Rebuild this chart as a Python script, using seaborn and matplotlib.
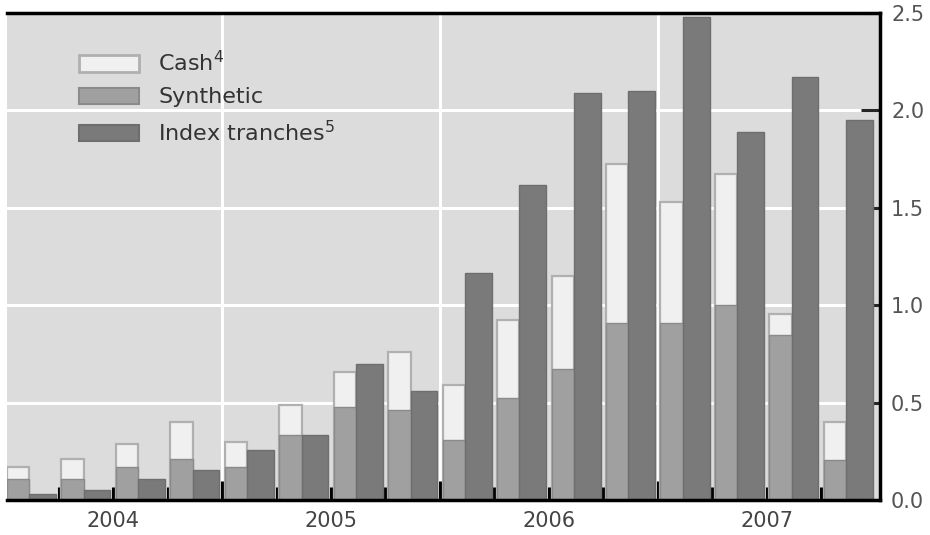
import numpy as np
import pandas as pd
import seaborn as sns
import matplotlib.pyplot as plt
from matplotlib.patches import Patch

sns.set_style("white")
plt.rcParams['font.family'] = ['DejaVu Sans']

# quarterly issuance, USD trillions (2004Q1 .. 2007Q4)
years = ["2004", "2005", "2006", "2007"]
quarters = [y + "Q" + str(q) for y in years for q in range(1, 5)]
synthetic = [0.11, 0.11, 0.17, 0.21, 0.17, 0.335, 0.475, 0.46,
             0.31, 0.525, 0.67, 0.91, 0.91, 1.00, 0.845, 0.205]
cash = [0.06, 0.10, 0.115, 0.19, 0.13, 0.155, 0.18, 0.30,
        0.28, 0.40, 0.48, 0.815, 0.62, 0.675, 0.11, 0.195]
index_tranches = [0.03, 0.05, 0.11, 0.155, 0.255, 0.335, 0.70, 0.56,
                  1.165, 1.615, 2.09, 2.10, 2.48, 1.89, 2.17, 1.95]

df = pd.DataFrame({"quarter": quarters, "synthetic": synthetic,
                   "cash": cash, "index": index_tranches})
df["pos"] = np.arange(len(df))
df["total"] = df["synthetic"] + df["cash"]

c_cash, e_cash = "#f0f0f0", "#b0b0b0"
c_syn, e_syn = "#a0a0a0", "#8a8a8a"
c_idx, e_idx = "#7a7a7a", "#6e6e6e"

fig = plt.figure(figsize=(9.3, 5.35), dpi=100)
ax = fig.add_axes([0.0075, 0.0654, 0.9387, 0.9103])
ax.set_facecolor("#dcdcdc")
ax.set_axisbelow(True)

sw, iw = 0.41, 0.49
gap = 1 - sw - iw
sns.barplot(x=df["pos"] + sw / 2, y=df["total"], native_scale=True, width=sw,
            color=c_cash, edgecolor=e_cash, linewidth=1.6, saturation=1,
            errorbar=None, ax=ax)
sns.barplot(x=df["pos"] + sw / 2, y=df["synthetic"], native_scale=True, width=sw,
            color=c_syn, edgecolor=e_syn, linewidth=1.0, saturation=1,
            errorbar=None, ax=ax)
sns.barplot(x=df["pos"] + sw + iw / 2, y=df["index"], native_scale=True, width=sw,
            color=c_idx, edgecolor=e_idx, linewidth=1.0, saturation=1,
            errorbar=None, ax=ax)
# index bars are a touch wider than the stacked ones
for p in ax.patches[2 * len(df):]:
    cx = p.get_x() + p.get_width() / 2
    p.set_width(iw)
    p.set_x(cx - iw / 2)

ax.set_xlim(0, 16.03)
ax.set_ylim(0, 2.5)
ax.set_xlabel("")
ax.set_ylabel("")

bounds = df["pos"].values[1:] - gap / 2
year_bounds = df["pos"].values[4::4] - gap / 2
ax.set_xticks(year_bounds)
ax.set_xticklabels([])
ax.set_xticks(bounds, minor=True)
ax.tick_params(axis="x", which="major", direction="in", length=13.5, width=2.2,
               color="black", bottom=True, labelbottom=False)
ax.tick_params(axis="x", which="minor", direction="in", length=9.4, width=2.2,
               color="black", bottom=True)

sec = ax.secondary_xaxis("bottom")
sec.set_xticks(df["pos"].values[::4] + (3 + sw + iw) / 2, years)
sec.tick_params(length=0, pad=8, labelsize=15, labelcolor="#444")
sec.spines["bottom"].set_visible(False)

ax.yaxis.tick_right()
yt = np.arange(0, 2.51, 0.5)
ax.set_yticks(yt, [f"{v:.1f}" for v in yt])
ax.tick_params(axis="y", direction="in", length=13.7, width=2.2, pad=8,
               labelsize=15, labelcolor="#555", right=True, left=False)

ax.grid(axis="x", which="major", color="white", linewidth=2.2)
ax.grid(axis="y", which="major", color="white", linewidth=2.2)

ax.spines["left"].set_visible(False)
for s in ["top", "right", "bottom"]:
    ax.spines[s].set_linewidth(2.5)
    ax.spines[s].set_color("black")

handles = [Patch(facecolor=c_cash, edgecolor=e_cash, linewidth=2, label=r"Cash$^4$"),
           Patch(facecolor=c_syn, edgecolor=e_syn, linewidth=1.5, label="Synthetic"),
           Patch(facecolor=c_idx, edgecolor=e_idx, linewidth=1.5, label=r"Index tranches$^5$")]
ax.legend(handles=handles, loc="upper left", bbox_to_anchor=(0.06, 0.965),
          frameon=False, fontsize=16, handlelength=2.7, handleheight=0.75,
          labelspacing=0.55, handletextpad=0.85, labelcolor="#333")

fig.savefig("out.png", dpi=100)
